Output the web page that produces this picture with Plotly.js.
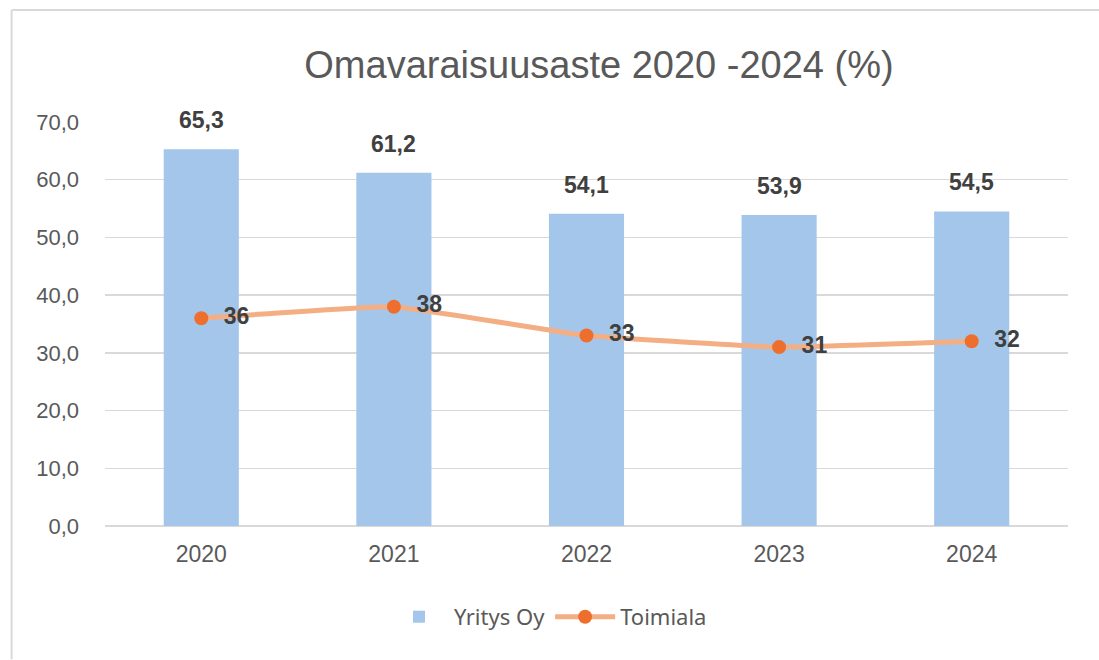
<!DOCTYPE html>
<html>
<head>
<meta charset="utf-8">
<script src="https://cdn.plot.ly/plotly-3.0.1.min.js"></script>
<style>
html,body{margin:0;padding:0;background:#fff;}
#chart{width:1099px;height:660px;}
</style>
</head>
<body>
<div id="chart"></div>
<script>
const categories = ["2020", "2021", "2022", "2023", "2024"];
const yritysOy = [65.3, 61.2, 54.1, 53.9, 54.5];
const toimiala = [36, 38, 33, 31, 32];
const yTicks = [0, 10, 20, 30, 40, 50, 60, 70];
const chartTitle = "Omavaraisuusaste 2020 -2024 (%)";
const seriesNames = ["Yritys Oy", "Toimiala"];

const labelFont = {family: "Liberation Sans, Arial, sans-serif", size: 23, color: "#404040", weight: "bold"};

const barTrace = {
  type: "bar",
  name: seriesNames[0],
  x: categories,
  y: yritysOy,
  width: 0.39,
  marker: {color: "#A3C6EA"},
  hoverinfo: "x+y"
};

const lineTrace = {
  type: "scatter",
  mode: "lines+markers+text",
  name: seriesNames[1],
  x: categories,
  y: toimiala,
  line: {color: "#F4AE84", width: 5, shape: "spline", smoothing: 0.3},
  marker: {color: "#EE6F2D", size: 14},
  text: toimiala.map(String),
  texttemplate: "\u00a0\u00a0%{text}",
  textposition: "middle right",
  textfont: labelFont,
  cliponaxis: false
};

const barLabels = categories.map((c, i) => ({
  x: i, y: yritysOy[i], xref: "x", yref: "y",
  text: yritysOy[i].toFixed(1).replace(".", ","),
  showarrow: false, yanchor: "middle", yshift: 29,
  font: labelFont
}));

const layout = {
  width: 1099, height: 660,
  paper_bgcolor: "#ffffff", plot_bgcolor: "#ffffff",
  separators: ", ",
  margin: {l: 105, r: 31, t: 122, b: 134},
  title: {
    text: chartTitle,
    font: {family: "Liberation Sans Narrow, Arial Narrow, Liberation Sans, sans-serif", size: 38, color: "#595959"},
    x: 0.545, xanchor: "center", y: 0.902, yanchor: "middle"
  },
  xaxis: {
    type: "category",
    categoryorder: "array",
    categoryarray: categories,
    range: [-0.5, categories.length - 0.5],
    tickfont: {family: "Liberation Sans, Arial, sans-serif", size: 23, color: "#595959"},
    showgrid: false, zeroline: false, showline: false, ticks: "",
    ticklabelstandoff: 12,
    fixedrange: true
  },
  yaxis: {
    range: [0, 70],
    tickvals: yTicks,
    tickformat: ".1f",
    tickfont: {family: "Liberation Sans, Arial, sans-serif", size: 22, color: "#595959"},
    gridcolor: "#D9D9D9", gridwidth: 1.5,
    zeroline: true, zerolinecolor: "#D9D9D9", zerolinewidth: 1.5,
    showline: false, ticks: "",
    ticklabelstandoff: 25,
    fixedrange: true
  },
  legend: {
    orientation: "h",
    x: 0.46, xanchor: "center",
    y: -0.225, yanchor: "middle",
    font: {family: "Noto Sans, Liberation Sans, sans-serif", size: 22, color: "#595959"},
    itemwidth: 60,
    traceorder: "normal"
  },
  annotations: barLabels,
  shapes: [
    {type: "line", xref: "paper", yref: "paper", x0: -0.097, x1: 1.04, y0: 1.277, y1: 1.277,
     line: {color: "#D9D9D9", width: 2}},
    {type: "line", xref: "paper", yref: "paper", x0: -0.097, x1: -0.097, y0: 1.277, y1: -0.33,
     line: {color: "#D9D9D9", width: 2}}
  ],
  showlegend: true
};

Plotly.newPlot("chart", [barTrace, lineTrace], layout, {displayModeBar: false, staticPlot: true});
</script>
</body>
</html>
